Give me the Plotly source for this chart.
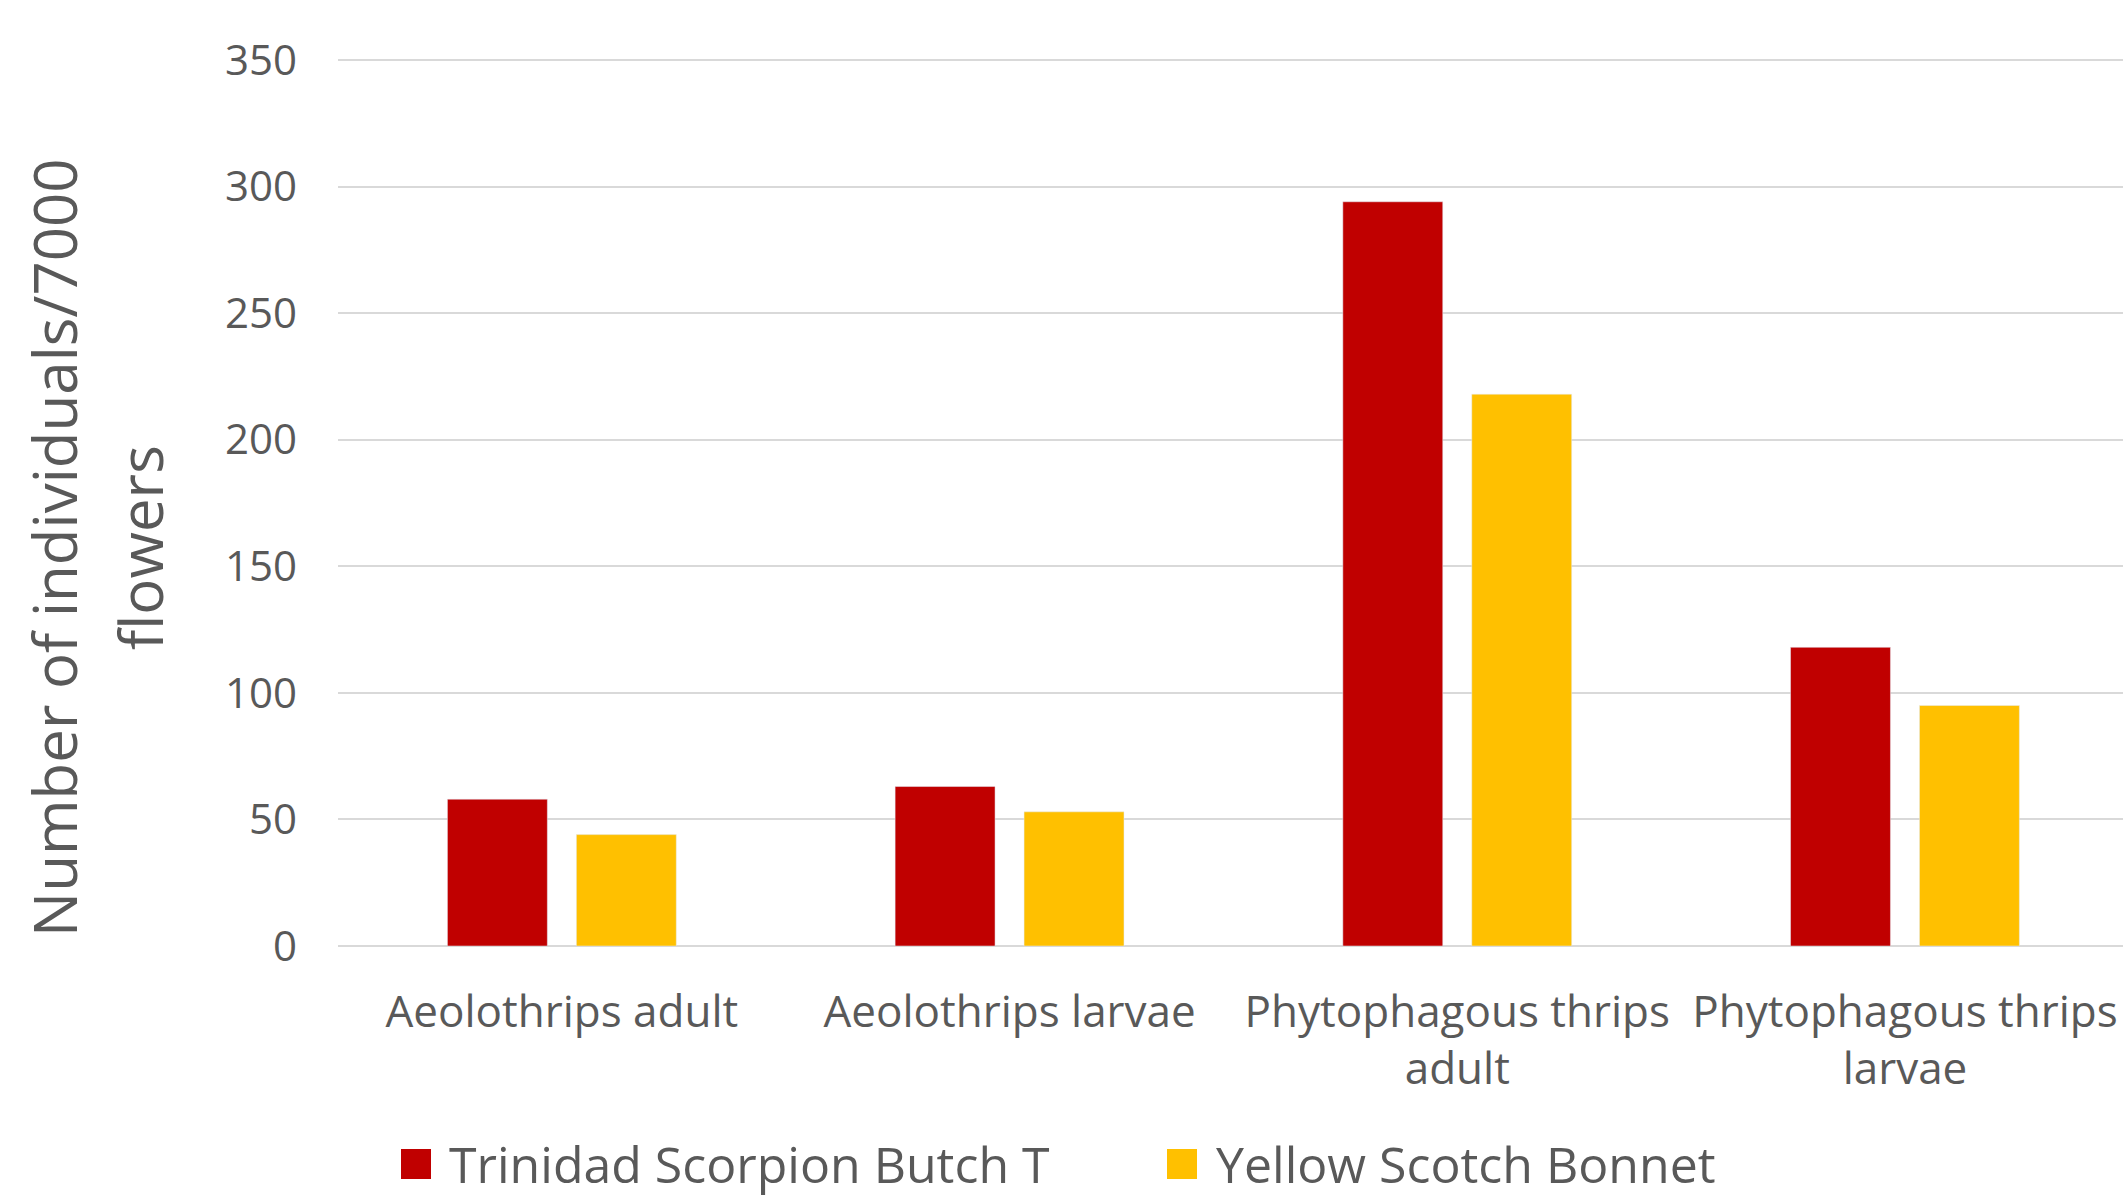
import plotly.graph_objects as go

categories = ["Aeolothrips adult", "Aeolothrips larvae", "Phytophagous thrips<br>adult", "Phytophagous thrips<br>larvae"]
trinidad = [58, 63, 294, 118]
yellow = [44, 53, 218, 95]
series_names = ["Trinidad Scorpion Butch T", "Yellow Scotch Bonnet"]
series_colors = ["#C00000", "#FFC000"]
y_ticks = [0, 50, 100, 150, 200, 250, 300, 350]

FONT = "Open Sans"
GRAY = "#595959"

W, H = 2123, 1203
L, R, T, B = 338, 0, 59, 257
PW, PH = W - L - R, H - T - B


def px_x(px):
    return (px - L) / PW


def px_y(py):
    return (H - B - py) / PH


fig = go.Figure()
fig.add_trace(go.Bar(x=categories, y=trinidad, name=series_names[0], marker_color=series_colors[0]))
fig.add_trace(go.Bar(x=categories, y=yellow, name=series_names[1], marker_color=series_colors[1]))

fig.update_layout(
    width=W, height=H,
    margin=dict(l=L, r=R, t=T, b=B, autoexpand=False),
    plot_bgcolor="white", paper_bgcolor="white",
    barmode="group", bargap=0.424, bargroupgap=0.225,
    font=dict(family=FONT, color=GRAY),
    showlegend=False,
)
fig.update_xaxes(range=[-0.5, 3.487], showgrid=False, showline=False, zeroline=False,
                 tickfont=dict(size=44, color=GRAY), ticks="", ticklabelstandoff=36)
fig.update_yaxes(range=[0, 350.4], tickvals=y_ticks, showgrid=True, gridcolor="#D9D9D9", gridwidth=2,
                 zeroline=True, zerolinecolor="#D9D9D9", zerolinewidth=2, showline=False,
                 tickfont=dict(size=42, color=GRAY), ticks="", ticklabelstandoff=40)

# y-axis title (two lines)
fig.add_annotation(text="Number of individuals/7000", textangle=-90, xref="paper", yref="paper",
                   x=px_x(54), y=px_y(548), xanchor="center", yanchor="middle",
                   showarrow=False, font=dict(size=60, color=GRAY, family=FONT))
fig.add_annotation(text="flowers", textangle=-90, xref="paper", yref="paper",
                   x=px_x(140), y=px_y(548), xanchor="center", yanchor="middle",
                   showarrow=False, font=dict(size=60, color=GRAY, family=FONT))

# legend (drawn manually so the swatches match the reference size)
LEG_Y = 1164
legend_items = [(401, 447), (1167, 1214)]
for (sx, tx), name, col in zip(legend_items, series_names, series_colors):
    fig.add_shape(type="rect", xref="paper", yref="paper",
                  x0=px_x(sx), x1=px_x(sx + 30), y0=px_y(LEG_Y + 15), y1=px_y(LEG_Y - 15),
                  fillcolor=col, line=dict(width=0))
    fig.add_annotation(text=name, xref="paper", yref="paper", x=px_x(tx), y=px_y(LEG_Y),
                       xanchor="left", yanchor="middle", showarrow=False,
                       font=dict(size=50, color=GRAY, family=FONT))

fig.write_html("out.html")
